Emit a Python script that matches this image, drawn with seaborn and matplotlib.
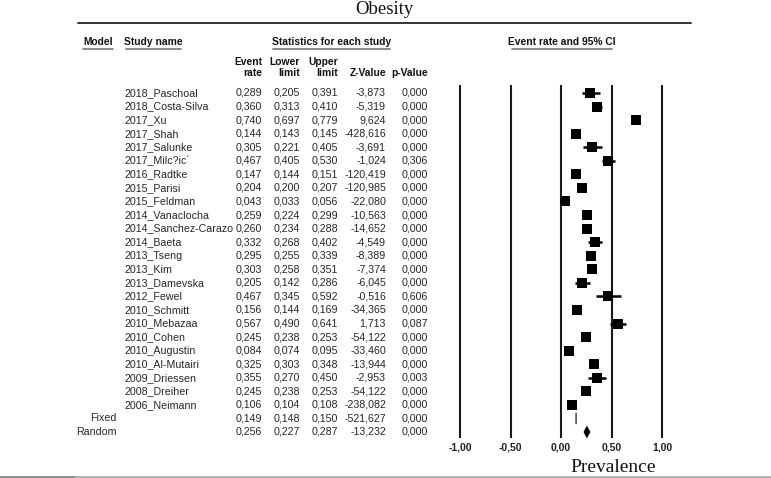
import matplotlib
matplotlib.use("Agg")
import matplotlib.pyplot as plt
import matplotlib.transforms as mtransforms
from matplotlib.patches import Polygon
import seaborn as sns
import pandas as pd

# ---------------- data ----------------
studies = ["2018_Paschoal", "2018_Costa-Silva", "2017_Xu", "2017_Shah", "2017_Salunke",
           "2017_Milc?ic\u00b4", "2016_Radtke", "2015_Parisi", "2015_Feldman", "2014_Vanaclocha",
           "2014_Sanchez-Carazo", "2014_Baeta", "2013_Tseng", "2013_Kim", "2013_Damevska",
           "2012_Fewel", "2010_Schmitt", "2010_Mebazaa", "2010_Cohen", "2010_Augustin",
           "2010_Al-Mutairi", "2009_Driessen", "2008_Dreiher", "2006_Neimann"]
event_rate = [0.289, 0.360, 0.740, 0.144, 0.305, 0.467, 0.147, 0.204, 0.043, 0.259,
              0.260, 0.332, 0.295, 0.303, 0.205, 0.467, 0.156, 0.567, 0.245, 0.084,
              0.325, 0.355, 0.245, 0.106]
lower = [0.205, 0.313, 0.697, 0.143, 0.221, 0.405, 0.144, 0.200, 0.033, 0.224,
         0.234, 0.268, 0.255, 0.258, 0.142, 0.345, 0.144, 0.490, 0.238, 0.074,
         0.303, 0.270, 0.238, 0.104]
upper = [0.391, 0.410, 0.779, 0.145, 0.405, 0.530, 0.151, 0.207, 0.056, 0.299,
         0.288, 0.402, 0.339, 0.351, 0.286, 0.592, 0.169, 0.641, 0.253, 0.095,
         0.348, 0.450, 0.253, 0.108]
z_value = ["-3,873", "-5,319", "9,624", "-428,616", "-3,691", "-1,024", "-120,419",
           "-120,985", "-22,080", "-10,563", "-14,652", "-4,549", "-8,389", "-7,374",
           "-6,045", "-0,516", "-34,365", "1,713", "-54,122", "-33,460", "-13,944",
           "-2,953", "-54,122", "-238,082"]
p_value = ["0,000", "0,000", "0,000", "0,000", "0,000", "0,306", "0,000", "0,000",
           "0,000", "0,000", "0,000", "0,000", "0,000", "0,000", "0,000", "0,606",
           "0,000", "0,087", "0,000", "0,000", "0,000", "0,003", "0,000", "0,000"]

models = ["Fixed", "Random"]
model_rate = [0.149, 0.256]
model_lower = [0.148, 0.227]
model_upper = [0.150, 0.287]
model_z = ["-521,627", "-13,232"]
model_p = ["0,000", "0,000"]

ticks = [-1.0, -0.5, 0.0, 0.5, 1.0]
tick_labels = ["-1,00", "-0,50", "0,00", "0,50", "1,00"]

# ---------------- figure ----------------
W, H = 771, 478
sns.set_theme(style="white")
plt.rcParams["font.family"] = ["Liberation Sans", "DejaVu Sans"]
fig = plt.figure(figsize=(W / 100, H / 100), dpi=100)

ROW0, ROWH = 93.0, 13.56
y_top = -ROW0 / ROWH
y_bot = (H - ROW0) / ROWH
ax = fig.add_axes([460 / W, 0, 202 / W, 1])
ax.set_xlim(-1, 1)
ax.set_ylim(y_bot, y_top)
ax.axis("off")

def fx(px):
    return px / W

def fy(py):
    return 1 - py / H

n = len(studies)
df = pd.DataFrame({"row": range(n), "rate": event_rate, "lo": lower, "hi": upper})

# vertical reference lines
v_top = (85 - ROW0) / ROWH
v_bot = (438 - ROW0) / ROWH
ax.vlines(ticks, v_top, v_bot, color="#1a1a1a", lw=1.5, clip_on=False)

# CI whiskers and squares
ax.hlines(df["row"], df["lo"], df["hi"], color="black", lw=1.8)
sns.scatterplot(data=df, x="rate", y="row", marker="s", s=60, color="black",
                edgecolor="black", linewidth=0, ax=ax, legend=False, zorder=3)

# summary diamonds
for k in range(2):
    yc = n + k
    hh = 0.42
    poly = Polygon([(model_lower[k], yc), (model_rate[k], yc - hh),
                    (model_upper[k], yc), (model_rate[k], yc + hh)],
                   closed=True, facecolor="black",
                   edgecolor="#555555" if k == 0 else "black",
                   lw=0.6 if k == 0 else 0.5)
    ax.add_patch(poly)

ax.set_xlim(-1, 1)
ax.set_ylim(y_bot, y_top)

# tick labels
tr_x = mtransforms.blended_transform_factory(ax.transData, fig.transFigure)
for t, lab in zip(ticks, tick_labels):
    ax.text(t, fy(447), lab, transform=tr_x, ha="center", va="center",
            fontsize=7.5, fontweight="bold", color="#222222")

# table text
tr = mtransforms.blended_transform_factory(fig.transFigure, ax.transData)
FS = 7.7
col_right = [262, 300, 338, 386, 428]
for i in range(n):
    ax.text(fx(124), i, studies[i], transform=tr, ha="left", va="center", fontsize=FS)
    vals = [f"{event_rate[i]:.3f}".replace(".", ","), f"{lower[i]:.3f}".replace(".", ","),
            f"{upper[i]:.3f}".replace(".", ","), z_value[i], p_value[i]]
    for xr, v in zip(col_right, vals):
        ax.text(fx(xr), i, v, transform=tr, ha="right", va="center", fontsize=FS)
for k in range(2):
    yy = n + k
    ax.text(fx(117), yy, models[k], transform=tr, ha="right", va="center", fontsize=FS)
    vals = [f"{model_rate[k]:.3f}".replace(".", ","), f"{model_lower[k]:.3f}".replace(".", ","),
            f"{model_upper[k]:.3f}".replace(".", ","), model_z[k], model_p[k]]
    for xr, v in zip(col_right, vals):
        ax.text(fx(xr), yy, v, transform=tr, ha="right", va="center", fontsize=FS)

# headers
HFS = 7.4
def header(x0, x1, txt):
    fig.text(fx((x0 + x1) / 2), fy(42), txt, ha="center", va="center",
             fontsize=HFS, fontweight="bold", color="#111111")
    fig.add_artist(plt.Line2D([fx(x0), fx(x1)], [fy(48.5), fy(48.5)],
                              color="#777777", lw=1.2))

header(83, 113, "Model")
header(126, 181, "Study name")
header(273, 390, "Statistics for each study")
header(512, 612, "Event rate and 95% CI")

sub1 = ["Event", "Lower", "Upper", "", ""]
sub2 = ["rate", "limit", "limit", "Z-Value", "p-Value"]
for xr, a, b in zip(col_right, sub1, sub2):
    if a:
        fig.text(fx(xr), fy(62), a, ha="right", va="center", fontsize=HFS,
                 fontweight="bold", color="#111111")
    fig.text(fx(xr), fy(73.5), b, ha="right", va="center", fontsize=HFS,
             fontweight="bold", color="#111111")

# title & axis label (serif)
fig.text(fx(384), fy(9), "Obesity", ha="center", va="center", fontsize=13.5,
         family=["Liberation Serif", "DejaVu Serif"], color="#111111")
fig.text(fx(613), fy(468), "Prevalence", ha="center", va="center", fontsize=14,
         family=["Liberation Serif", "DejaVu Serif"], color="#111111")

# rules
fig.add_artist(plt.Line2D([fx(78), fx(691)], [fy(23), fy(23)], color="#333333", lw=1.4))
fig.add_artist(plt.Line2D([0, fx(75)], [fy(476.5), fy(476.5)], color="#888888", lw=2))
fig.add_artist(plt.Line2D([fx(75), 1], [fy(476.5), fy(476.5)], color="#b0b0b0", lw=2))

fig.savefig("out.png", dpi=100)
